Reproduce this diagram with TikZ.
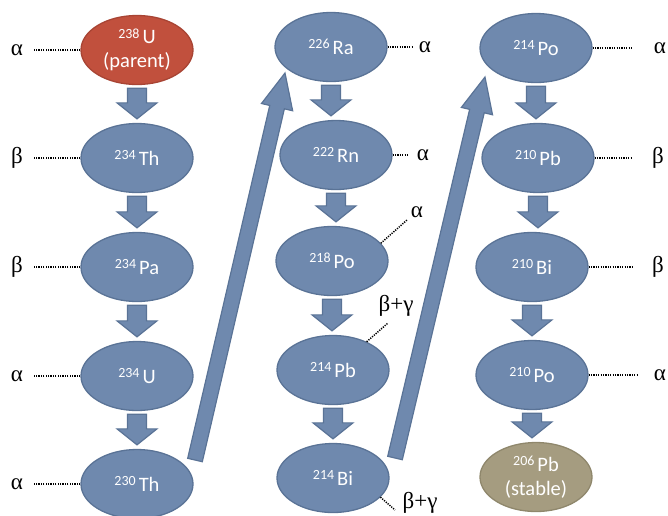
\documentclass[tikz,border=0pt]{standalone}
\usepackage{fontspec}
\setmainfont{Carlito}
\newfontfamily\greekfont{Liberation Serif}
\usetikzlibrary{calc,shapes.geometric}
\definecolor{nucblue}{HTML}{6F89AE}
\definecolor{nucblueline}{HTML}{5A7396}
\definecolor{nucred}{HTML}{C1503D}
\definecolor{nucredline}{HTML}{A84434}
\definecolor{nuctan}{HTML}{A59C80}
\definecolor{nuctanline}{HTML}{8F876C}
\tikzset{
  nuc/.style={ellipse, minimum width=112pt, minimum height=69pt, inner sep=0pt,
    fill=nucblue, draw=nucblueline, line width=1.3pt, text=white,
    font=\fontsize{20.5}{24}\selectfont, align=center},
  parentnuc/.style={nuc, fill=nucred, draw=nucredline},
  stablenuc/.style={nuc, fill=nuctan, draw=nuctanline},
  barrow/.style={fill=nucblue, draw=nucblueline, line width=1.2pt},
  decaylab/.style={inner sep=0pt, font=\greekfont\fontsize{23}{23}\selectfont},
  dotline/.style={line width=1.5pt, dash pattern=on 1.2pt off 1.2pt},
}
\newcommand\iso[2]{{\fontsize{14}{14}\selectfont\raisebox{5.5pt}{#1}}\hspace{3pt}#2}
% block arrow: from, to, shaft half width, head half width, head length
\newcommand\blockarr[5]{%
  \draw[barrow] let \p1=(#1), \p2=(#2),
      \n1={veclen(\x2-\x1,\y2-\y1)}, \n2={atan2(\y2-\y1,\x2-\x1)} in
    [shift={(\p1)}, rotate=\n2]
    (0pt,-#3) -- (\n1-#5,-#3) -- (\n1-#5,-#4) -- (\n1,0pt) -- (\n1-#5,#4)
    -- (\n1-#5,#3) -- (0pt,#3) -- cycle;}
\newcommand\downarr[2]{\blockarr{$(#1.south)+(0,3)$}{$(#1.south |- #2.north)+(0,-4)$}{9.5pt}{20pt}{16pt}}
\begin{document}
\begin{tikzpicture}[x=1pt,y=-1pt]
\useasboundingbox (0,0) rectangle (668,515);
% column 1
\node[parentnuc] (u238) at (137,50) {\iso{238}{U}\\(parent)};
\node[nuc] (th234) at (137,158) {\iso{234}{Th}};
\node[nuc] (pa234) at (137,267) {\iso{234}{Pa}};
\node[nuc] (u234) at (137,376) {\iso{234}{U}};
\node[nuc] (th230) at (137,484) {\iso{230}{Th}};
% column 2
\node[nuc] (ra226) at (331,47) {\iso{226}{Ra}};
\node[nuc] (rn222) at (336,155) {\iso{222}{Rn}};
\node[nuc] (po218) at (332,261) {\iso{218}{Po}};
\node[nuc] (pb214) at (333,370) {\iso{214}{Pb}};
\node[nuc] (bi214) at (333,478) {\iso{214}{Bi}};
% column 3
\node[nuc] (po214) at (536,48) {\iso{214}{Po}};
\node[nuc] (pb210) at (538,158) {\iso{210}{Pb}};
\node[nuc] (bi210) at (532,267) {\iso{210}{Bi}};
\node[nuc] (po210) at (532,375) {\iso{210}{Po}};
\node[stablenuc] (pb206) at (536,477) {\iso{206}{Pb}\\(stable)};

% short arrows
\downarr{u238}{th234}
\downarr{th234}{pa234}
\downarr{pa234}{u234}
\downarr{u234}{th230}
\downarr{ra226}{rn222}
\downarr{rn222}{po218}
\downarr{po218}{pb214}
\downarr{pb214}{bi214}
\downarr{po214}{pb210}
\downarr{pb210}{bi210}
\downarr{bi210}{po210}
\downarr{po210}{pb206}

% long arrows
\coordinate (l1a) at ($(th230)+(58,-24)$);
\coordinate (l1b) at ($(ra226)+(-46,26)$);
\coordinate (l2a) at ($(bi214)+(62,-20)$);
\coordinate (l2b) at ($(po214)+(-51,29)$);
\blockarr{l1a}{l1b}{7.5pt}{16pt}{35pt}
\blockarr{l2a}{l2b}{7.5pt}{16pt}{35pt}

% decay labels column 1
\coordinate (d1) at (34,50);
\coordinate (d2) at (34,158);
\coordinate (d3) at (34,267);
\coordinate (d4) at (34,376);
\coordinate (d5) at (34,484);
\draw[dotline] (u238.west) -- (d1);
\draw[dotline] (th234.west) -- (d2);
\draw[dotline] (pa234.west) -- (d3);
\draw[dotline] (u234.west) -- (d4);
\draw[dotline] (th230.west) -- (d5);
\node[decaylab] (a1) at (17,50) {α};
\node[decaylab] (a2) at (17,158) {β};
\node[decaylab] (a3) at (17,267) {β};
\node[decaylab] (a4) at (17,376) {α};
\node[decaylab] (a5) at (17,484) {α};

% column 2 labels
\coordinate (d6) at (413,47);
\coordinate (d7) at (408,155);
\coordinate (d8) at (407,220);
\coordinate (d9) at (388,323);
\coordinate (d10) at (395,510);
\draw[dotline] (ra226.east) -- (d6);
\draw[dotline] (rn222.east) -- (d7);
\draw[dotline] (po218.20) -- (d8);
\draw[dotline] (pb214.40) -- (d9);
\draw[dotline] (bi214.-22) -- (d10);
\node[decaylab] (a6) at (425,47) {α};
\node[decaylab] (a7) at (423,155) {α};
\node[decaylab] (a8) at (417,212) {α};
\node[decaylab] (a9) at (396,306) {β+γ};
\node[decaylab] (a10) at (420,503) {β+γ};

% column 3 labels
\coordinate (d11) at (632,48);
\coordinate (d12) at (632,158);
\coordinate (d13) at (632,267);
\coordinate (d14) at (637,375);
\draw[dotline] (po214.east) -- (d11);
\draw[dotline] (pb210.east) -- (d12);
\draw[dotline] (bi210.east) -- (d13);
\draw[dotline] (po210.east) -- (d14);
\node[decaylab] (a11) at (660,48) {α};
\node[decaylab] (a12) at (658,158) {β};
\node[decaylab] (a13) at (658,267) {β};
\node[decaylab] (a14) at (660,375) {α};
\end{tikzpicture}
\end{document}
